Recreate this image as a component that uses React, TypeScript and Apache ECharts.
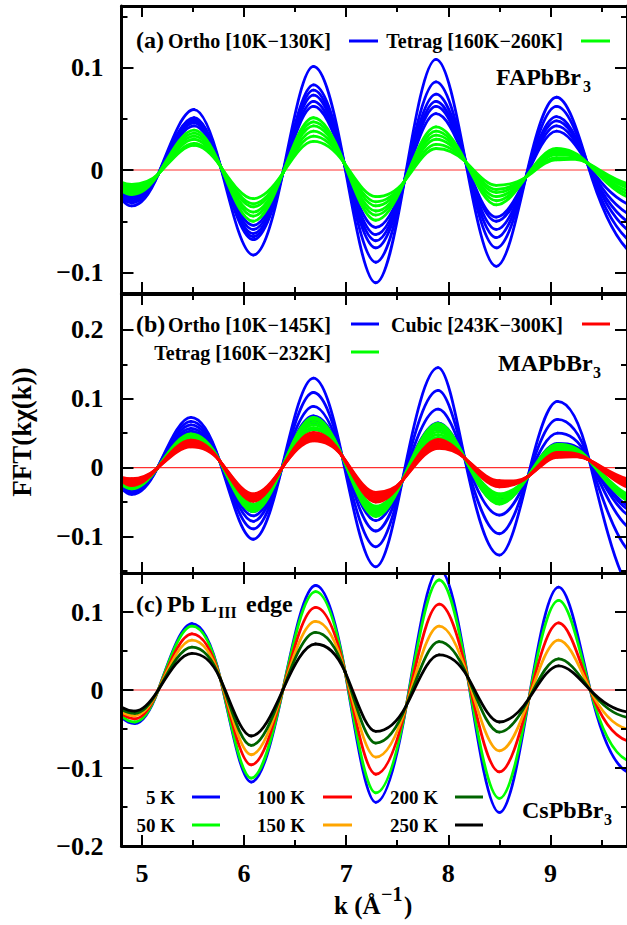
import React, { useEffect, useRef } from 'react';
import * as echarts from 'echarts';

const SERIF = '"Liberation Serif", "Times New Roman", serif';

// ---- shared k axis ----
const K_MIN = 4.8;
const K_MAX = 9.75;
const K_MAJOR = [5, 6, 7, 8, 9];
const K_MINOR = [5.5, 6.5, 7.5, 8.5, 9.5];

// ---- y ranges and tick values per panel ----
const Y_RANGE_A = [-0.12, 0.16];
const Y_MAJOR_A = [-0.1, 0, 0.1];
const Y_MINOR_A = [-0.05, 0.05, 0.15];

const Y_RANGE_B = [-0.153, 0.252];
const Y_MAJOR_B = [-0.1, 0, 0.1, 0.2];
const Y_MINOR_B = [-0.15, -0.05, 0.05, 0.15];

const Y_RANGE_C = [-0.2, 0.15];
const Y_MAJOR_C = [-0.2, -0.1, 0, 0.1];
const Y_MINOR_C = [-0.15, -0.05, 0.05];

// Each curve is sampled at: left edge, first trough, then alternating
// (node, extremum) pairs, ending at the right edge.
// k positions of those samples for each panel
const K_A = [4.8, 4.9, 5.16, 5.51, 5.77, 6.09, 6.38, 6.68, 6.98, 7.29, 7.57, 7.88, 8.17, 8.47, 8.76, 9.06, 9.36, 9.75];
const K_B = [4.8, 4.9, 5.15, 5.48, 5.76, 6.09, 6.37, 6.68, 6.96, 7.29, 7.55, 7.9, 8.16, 8.5, 8.78, 9.07, 9.38, 9.75];
const K_C = [4.8, 4.93, 5.16, 5.49, 5.77, 6.07, 6.38, 6.7, 6.99, 7.29, 7.59, 7.91, 8.19, 8.5, 8.79, 9.08, 9.39, 9.75];

// values at the common crossing points (nodes) of each panel
const NODES_A = [-0.004, 0.0035, -0.003, 0.007, -0.011, 0.008, -0.007, 0.007];
const NODES_B = [-0.001, 0.01, -0.001, 0.017, -0.019, 0.014, -0.013, 0.011];
const NODES_C = [0, 0.0137, 0, 0.023, -0.0196, 0.0167, -0.011, 0];

// extrema: [left edge, trough, peak, trough, peak, trough, peak, trough, peak, right edge]
// (a) FAPbBr3
const FA_ORTHO = [
  [-0.028, -0.035, 0.059, -0.083, 0.101, -0.11, 0.108, -0.094, 0.071, -0.077],
  [-0.026, -0.032, 0.051, -0.068, 0.083, -0.09, 0.086, -0.076, 0.062, -0.067],
  [-0.024, -0.03, 0.05, -0.065, 0.078, -0.076, 0.074, -0.066, 0.052, -0.058],
  [-0.022, -0.028, 0.048, -0.062, 0.073, -0.069, 0.067, -0.058, 0.048, -0.05],
  [-0.021, -0.026, 0.046, -0.058, 0.067, -0.063, 0.062, -0.05, 0.043, -0.042],
  [-0.02, -0.024, 0.043, -0.054, 0.062, -0.056, 0.055, -0.046, 0.038, -0.033],
];
const FA_TETRAG = [
  [-0.02, -0.024, 0.039, -0.05, 0.051, -0.049, 0.042, -0.034, 0.021, -0.026],
  [-0.018, -0.022, 0.036, -0.045, 0.047, -0.044, 0.038, -0.03, 0.019, -0.023],
  [-0.017, -0.02, 0.033, -0.041, 0.043, -0.04, 0.034, -0.026, 0.017, -0.02],
  [-0.015, -0.018, 0.03, -0.036, 0.038, -0.035, 0.03, -0.022, 0.015, -0.017],
  [-0.013, -0.016, 0.026, -0.033, 0.033, -0.031, 0.025, -0.019, 0.012, -0.015],
  [-0.012, -0.014, 0.024, -0.028, 0.028, -0.026, 0.021, -0.015, 0.01, -0.013],
];

// (b) MAPbBr3
const MA_ORTHO = [
  [-0.03, -0.039, 0.073, -0.104, 0.13, -0.144, 0.145, -0.127, 0.096, -0.17],
  [-0.028, -0.036, 0.067, -0.089, 0.109, -0.115, 0.112, -0.096, 0.07, -0.118],
  [-0.026, -0.033, 0.062, -0.078, 0.089, -0.092, 0.085, -0.069, 0.05, -0.085],
  [-0.025, -0.031, 0.057, -0.07, 0.075, -0.077, 0.065, -0.052, 0.035, -0.068],
  [-0.024, -0.029, 0.053, -0.064, 0.07, -0.068, 0.06, -0.048, 0.032, -0.06],
  [-0.023, -0.027, 0.05, -0.06, 0.066, -0.064, 0.056, -0.045, 0.03, -0.055],
];
const MA_TETRAG = [
  [-0.024, -0.031, 0.049, -0.064, 0.073, -0.071, 0.064, -0.053, 0.034, -0.048],
  [-0.023, -0.03, 0.047, -0.062, 0.07, -0.068, 0.06, -0.05, 0.032, -0.046],
  [-0.022, -0.029, 0.045, -0.06, 0.066, -0.065, 0.056, -0.047, 0.03, -0.044],
  [-0.021, -0.027, 0.044, -0.058, 0.062, -0.062, 0.052, -0.044, 0.028, -0.042],
  [-0.02, -0.026, 0.043, -0.056, 0.058, -0.059, 0.048, -0.041, 0.026, -0.04],
  [-0.019, -0.025, 0.041, -0.053, 0.055, -0.056, 0.044, -0.038, 0.024, -0.038],
];
const MA_CUBIC = [
  [-0.019, -0.026, 0.04, -0.049, 0.051, -0.05, 0.041, -0.028, 0.022, -0.028],
  [-0.018, -0.024, 0.038, -0.047, 0.048, -0.047, 0.038, -0.026, 0.02, -0.026],
  [-0.017, -0.022, 0.036, -0.045, 0.046, -0.044, 0.035, -0.024, 0.019, -0.024],
  [-0.016, -0.02, 0.034, -0.042, 0.043, -0.041, 0.033, -0.022, 0.018, -0.021],
  [-0.015, -0.018, 0.032, -0.04, 0.041, -0.039, 0.03, -0.021, 0.016, -0.019],
  [-0.014, -0.016, 0.03, -0.038, 0.039, -0.036, 0.028, -0.019, 0.015, -0.016],
];

// (c) CsPbBr3, one curve per temperature
const CS_TEMPS = ['5 K', '50 K', '100 K', '150 K', '200 K', '250 K'];
const CS_CURVES = [
  [-0.035, -0.043, 0.085, -0.118, 0.134, -0.144, 0.155, -0.157, 0.132, -0.105],
  [-0.033, -0.041, 0.082, -0.113, 0.126, -0.132, 0.141, -0.139, 0.115, -0.09],
  [-0.03, -0.037, 0.072, -0.096, 0.106, -0.108, 0.11, -0.105, 0.086, -0.065],
  [-0.028, -0.033, 0.064, -0.083, 0.088, -0.086, 0.082, -0.078, 0.064, -0.05],
  [-0.025, -0.03, 0.055, -0.071, 0.074, -0.068, 0.062, -0.054, 0.04, -0.035],
  [-0.022, -0.027, 0.047, -0.059, 0.059, -0.053, 0.045, -0.041, 0.031, -0.028],
];

const BLUE = '#0000ff';
const GREEN = '#00ff00';
const RED = '#ff0000';
const ORANGE = '#ffa500';
const DKGREEN = '#006400';
const BLACK = '#000000';
const CS_COLORS = [BLUE, GREEN, RED, ORANGE, DKGREEN, BLACK];

// merge extrema and node values into [k, y] pairs
function curve(ks: number[], nodes: number[], ext: number[]): number[][] {
  const ys = [ext[0], ext[1]];
  for (let i = 0; i < nodes.length; i++) ys.push(nodes[i], ext[i + 2]);
  return ks.map((k, i) => [k, ys[i]]);
}

const fmtY = (v: number) => {
  const r = Math.round(v * 10) / 10;
  if (r === 0) return '0';
  return (r < 0 ? '\u2212' : '') + Math.abs(r).toFixed(1);
};

const GRID_LEFT = 121.5;
const GRID_WIDTH = 507;
const LAYOUT = [
  { top: 6, height: 287, endSlope: 0.5 },
  { top: 294, height: 279, endSlope: 0.5 },
  { top: 573, height: 273, endSlope: 0.25 },
];

const TICK_STYLE = { color: '#000', width: 2 };
const FRAME_STYLE = { color: '#000', width: 3 };
const LABEL_FONT = { fontFamily: SERIF, fontWeight: 'bold' as const, fontSize: 26, color: '#000' };
const CURVE_WIDTH = 2.8;

// Oscillation curve: a cubic Hermite spline through the samples, with flat
// tangents at the extrema and sine-like tangents at the crossing nodes.
function oscSeries(g: number, pts: number[][], color: string) {
  const endSlope = LAYOUT[g].endSlope;
  return {
    type: 'custom',
    xAxisIndex: g * 4,
    yAxisIndex: g * 4,
    data: pts,
    encode: { x: 0, y: 1 },
    clip: true,
    silent: true,
    z: 2,
    renderItem: (params: any, api: any) => {
      const i = params.dataIndex;
      if (i === 0) return null;
      const px = pts.map((p) => api.coord(p));
      const n = px.length;
      const slope = (j: number) => {
        if (j === 0) return (2 * (px[0][1] - px[1][1])) / (px[0][0] - px[1][0]);
        if (j === n - 1) return (endSlope * (px[j][1] - px[j - 1][1])) / (px[j][0] - px[j - 1][0]);
        if (j % 2 === 1) return 0;
        return ((Math.PI / 2) * (px[j + 1][1] - px[j - 1][1])) / (px[j + 1][0] - px[j - 1][0]);
      };
      const a = px[i - 1];
      const b = px[i];
      const h = (b[0] - a[0]) / 3;
      const m0 = slope(i - 1);
      const m1 = slope(i);
      const cs = params.coordSys;
      return {
        type: 'bezierCurve',
        shape: {
          x1: a[0], y1: a[1], x2: b[0], y2: b[1],
          cpx1: a[0] + h, cpy1: a[1] + m0 * h,
          cpx2: b[0] - h, cpy2: b[1] - m1 * h,
        },
        clipPath: { type: 'rect', shape: { x: cs.x, y: cs.y, width: cs.width, height: cs.height } },
        style: { stroke: color, lineWidth: CURVE_WIDTH, fill: null, lineCap: 'round' },
      };
    },
  };
}

function buildOption() {
  const yRanges = [Y_RANGE_A, Y_RANGE_B, Y_RANGE_C];
  const yMajors = [Y_MAJOR_A, Y_MAJOR_B, Y_MAJOR_C];
  const yMinors = [Y_MINOR_A, Y_MINOR_B, Y_MINOR_C];

  const grid = LAYOUT.map((l) => ({ left: GRID_LEFT, width: GRID_WIDTH, top: l.top, height: l.height, containLabel: false }));

  const xAxis: any[] = [];
  const yAxis: any[] = [];
  LAYOUT.forEach((_, g) => {
    const xb = {
      gridIndex: g, type: 'value', min: K_MIN, max: K_MAX, z: 5, splitLine: { show: false },
    };
    const mk = (position: string, major: boolean, labels: boolean) => ({
      ...xb,
      position,
      axisLine: { show: major, onZero: false, lineStyle: FRAME_STYLE },
      axisTick: { show: true, inside: true, length: major ? 11 : 6, customValues: major ? K_MAJOR : K_MINOR, lineStyle: TICK_STYLE },
      axisLabel: labels
        ? { show: true, customValues: K_MAJOR, margin: 14, ...LABEL_FONT, formatter: (v: number) => String(Math.round(v)) }
        : { show: false },
    });
    xAxis.push(mk('bottom', true, g === 2), mk('bottom', false, false), mk('top', true, false), mk('top', false, false));

    const yb = {
      gridIndex: g, type: 'value', min: yRanges[g][0], max: yRanges[g][1], z: 5, splitLine: { show: false },
    };
    const mky = (position: string, major: boolean, labels: boolean) => ({
      ...yb,
      position,
      axisLine: { show: major, onZero: false, lineStyle: FRAME_STYLE },
      axisTick: { show: true, inside: true, length: major ? 12 : 6, customValues: major ? yMajors[g] : yMinors[g], lineStyle: TICK_STYLE },
      axisLabel: labels
        ? { show: true, customValues: yMajors[g], margin: 18, ...LABEL_FONT, formatter: fmtY }
        : { show: false },
    });
    yAxis.push(mky('left', true, true), mky('left', false, false), mky('right', true, false), mky('right', false, false));
  });

  const series: any[] = [];
  const zero = (g: number) => ({
    type: 'line', xAxisIndex: g * 4, yAxisIndex: g * 4, symbol: 'none', silent: true, z: 1,
    data: [[K_MIN, 0], [K_MAX, 0]],
    lineStyle: { color: '#ff3030', width: 1.2 },
  });

  series.push(zero(0), zero(1), zero(2));
  FA_ORTHO.forEach((e) => series.push(oscSeries(0, curve(K_A, NODES_A, e), BLUE)));
  FA_TETRAG.forEach((e) => series.push(oscSeries(0, curve(K_A, NODES_A, e), GREEN)));
  MA_ORTHO.forEach((e) => series.push(oscSeries(1, curve(K_B, NODES_B, e), BLUE)));
  MA_TETRAG.forEach((e) => series.push(oscSeries(1, curve(K_B, NODES_B, e), GREEN)));
  MA_CUBIC.forEach((e) => series.push(oscSeries(1, curve(K_B, NODES_B, e), RED)));
  CS_CURVES.forEach((e, i) => series.push(oscSeries(2, curve(K_C, NODES_C, e), CS_COLORS[i])));

  const font = (size: number) => `bold ${size}px ${SERIF}`;
  const txt = (text: string, x: number, y: number, size: number, align = 'left', extra: any = {}) => ({
    type: 'text', x, y, z: 20, ...extra,
    style: { text, font: font(size), fill: '#000', align, verticalAlign: 'middle' },
  });
  const sample = (x1: number, x2: number, y: number, color: string) => ({
    type: 'line', z: 20, shape: { x1, y1: y, x2, y2: y }, style: { stroke: color, lineWidth: 3 },
  });

  const graphic: any[] = [
    // panel (a)
    txt('(a)', 136, 40, 24),
    txt('Ortho [10K\u2212130K]', 331, 41, 20, 'right'),
    sample(349, 378, 41, BLUE),
    txt('Tetrag [160K\u2212260K]', 563, 41, 20, 'right'),
    sample(581, 610, 41, GREEN),
    txt('FAPbBr', 496, 77, 24),
    txt('3', 583, 86, 16),
    // panel (b)
    txt('(b)', 136, 324, 24),
    txt('Ortho [10K\u2212145K]', 331, 325, 20, 'right'),
    sample(351, 379, 324, BLUE),
    txt('Cubic [243K\u2212300K]', 563, 325, 20, 'right'),
    sample(582, 610, 324, RED),
    txt('Tetrag [160K\u2212232K]', 331, 353, 20, 'right'),
    sample(351, 379, 352, GREEN),
    txt('MAPbBr', 498, 363, 24),
    txt('3', 593, 372, 16),
    // panel (c)
    txt('(c)', 136, 604, 24),
    txt('Pb L', 167, 604, 24),
    txt('III', 218, 612, 16),
    txt('edge', 246, 604, 24),
    txt('CsPbBr', 522, 810, 24),
    txt('3', 604, 819, 16),
    // axis titles
    txt('FFT(k\u03c7(k))', 22, 432, 27, 'center', { rotation: Math.PI / 2 }),
    txt('k (\u00c5', 334, 905, 25),
    txt('\u22121', 381, 894, 20),
    txt(')', 404, 905, 25),
  ];

  // temperature legend of panel (c): three columns, two rows
  const colTextRight = [175, 305, 438];
  const colLine = [[192, 220], [323, 352], [455, 483]];
  const rowY = [797, 825];
  CS_TEMPS.forEach((t, i) => {
    const col = Math.floor(i / 2);
    const row = i % 2;
    graphic.push(txt(t, colTextRight[col], rowY[row], 19, 'right'));
    graphic.push(sample(colLine[col][0], colLine[col][1], rowY[row], CS_COLORS[i]));
  });

  return {
    animation: false,
    backgroundColor: '#ffffff',
    grid,
    xAxis,
    yAxis,
    series,
    graphic,
  };
}

export default function App() {
  const ref = useRef<HTMLDivElement>(null);
  useEffect(() => {
    if (!ref.current) return;
    const chart = echarts.init(ref.current, null, { renderer: 'svg' });
    chart.setOption(buildOption() as any);
    return () => chart.dispose();
  }, []);
  return (
    <div
      ref={ref}
      style={{ position: 'absolute', left: 0, top: 0, width: 627, height: 925, background: '#fff' }}
    />
  );
}
